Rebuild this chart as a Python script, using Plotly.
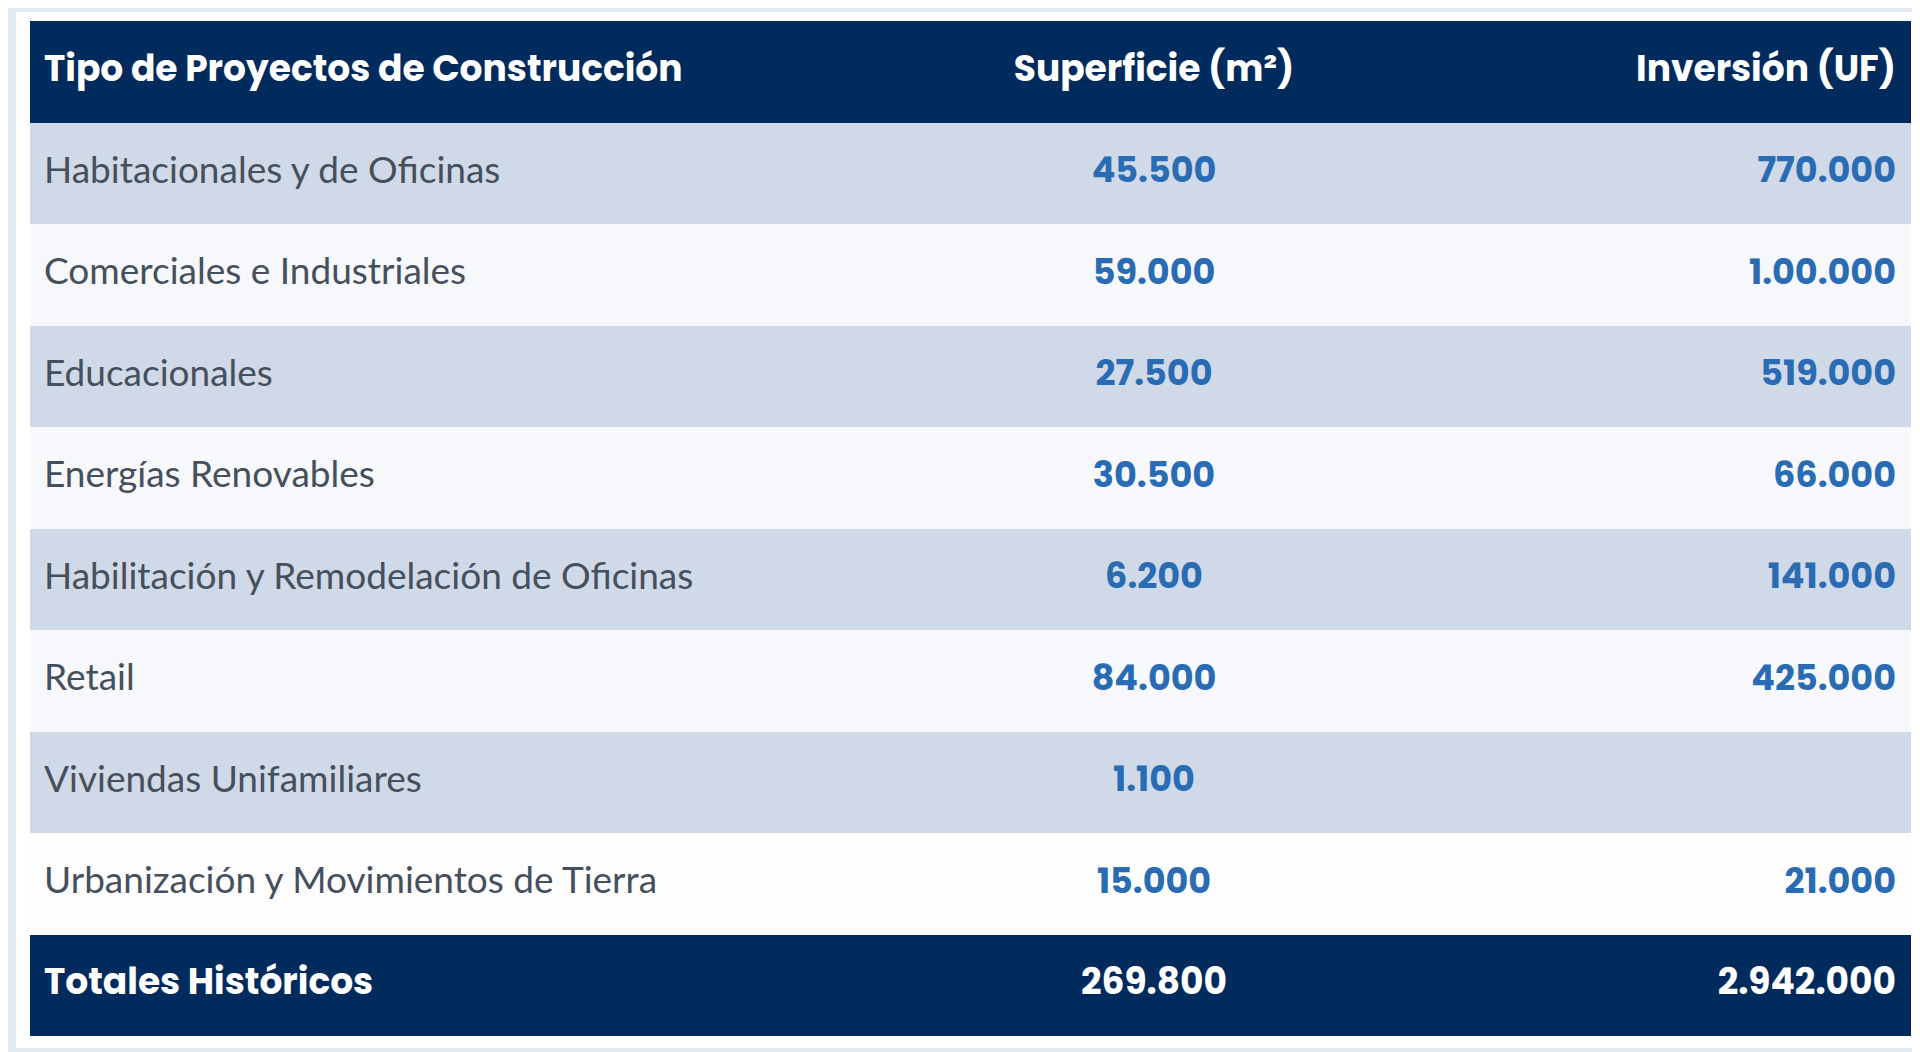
import plotly.graph_objects as go

header = ["Tipo de Proyectos de Construcción", "Superficie (m²)", "Inversión (UF)"]
tipos = ["Habitacionales y de Oficinas", "Comerciales e Industriales", "Educacionales",
         "Energías Renovables", "Habilitación y Remodelación de Oficinas", "Retail",
         "Viviendas Unifamiliares", "Urbanización y Movimientos de Tierra"]
superficie = ["45.500", "59.000", "27.500", "30.500", "6.200", "84.000", "1.100", "15.000"]
inversion = ["770.000", "1.00.000", "519.000", "66.000", "141.000", "425.000", "", "21.000"]
total_label = "Totales Históricos"
total_superficie = "269.800"
total_inversion = "2.942.000"

NAVY = "#002b5c"
ROW_A = "#cfd9e7"
ROW_B = "#f6f8fb"
ROW_LAST = "#fdfdfe"
NUM = "#2a6cb3"
TXT = "#46505c"
POP = "Poppins, Inter, sans-serif"

n = len(tipos)
rows = list(range(n + 2))          # 0 = header, 1..n = data, n+1 = totals
data_rows = rows[1:n + 1]
fills = [NAVY] + [ROW_A if i % 2 == 0 else ROW_B for i in range(n)] + [NAVY]
fills[n] = ROW_LAST

W = 1881  # table width in axis units (px)
X1, X2, X3 = 14, 1124, 1866

fig = go.Figure()
fig.add_trace(go.Bar(y=rows, x=[W] * len(rows), orientation="h", width=1,
                     marker=dict(color=fills, line_width=0), hoverinfo="skip"))

# header and totals (white, bold)
for r, labels in [(0, header), (n + 1, [total_label, total_superficie, total_inversion])]:
    for x, t, pos in zip([X1, X2, X3], labels, ["middle right", "middle center", "middle left"]):
        fig.add_trace(go.Scatter(x=[x], y=[r], mode="text", text=["<b>" + t + "</b>"],
                                 textposition=pos, hoverinfo="skip",
                                 textfont=dict(family=POP, size=36, color="white")))

fig.add_trace(go.Scatter(x=[X1] * n, y=data_rows, mode="text", text=tipos,
                         textposition="middle right", hoverinfo="skip",
                         textfont=dict(family="Lato, sans-serif", size=37, color=TXT)))
fig.add_trace(go.Scatter(x=[X2] * n, y=data_rows, mode="text",
                         text=["<b>" + v + "</b>" for v in superficie],
                         textposition="middle center", hoverinfo="skip",
                         textfont=dict(family=POP, size=35, color=NUM)))
fig.add_trace(go.Scatter(x=[X3] * n, y=data_rows, mode="text",
                         text=["<b>" + v + "</b>" if v else "" for v in inversion],
                         textposition="middle left", hoverinfo="skip",
                         textfont=dict(family=POP, size=35, color=NUM)))

fig.update_layout(
    width=1920, height=1052,
    margin=dict(l=0, r=0, t=0, b=0),
    paper_bgcolor="#e3e9f1",
    plot_bgcolor="white",
    showlegend=False,
    bargap=0,
    xaxis=dict(domain=[22 / 1920, 1903 / 1920], range=[0, W], visible=False, fixedrange=True),
    yaxis=dict(domain=[24 / 1052, 1 - 13 / 1052], range=[n + 1.5, -0.5], visible=False,
               fixedrange=True),
    shapes=[dict(type="rect", xref="paper", yref="paper", x0=8 / 1920, x1=1912 / 1920,
                 y0=12 / 1052, y1=1 - 4 / 1052, fillcolor="white", line_width=0, layer="below")],
)

fig.write_html("out.html")
